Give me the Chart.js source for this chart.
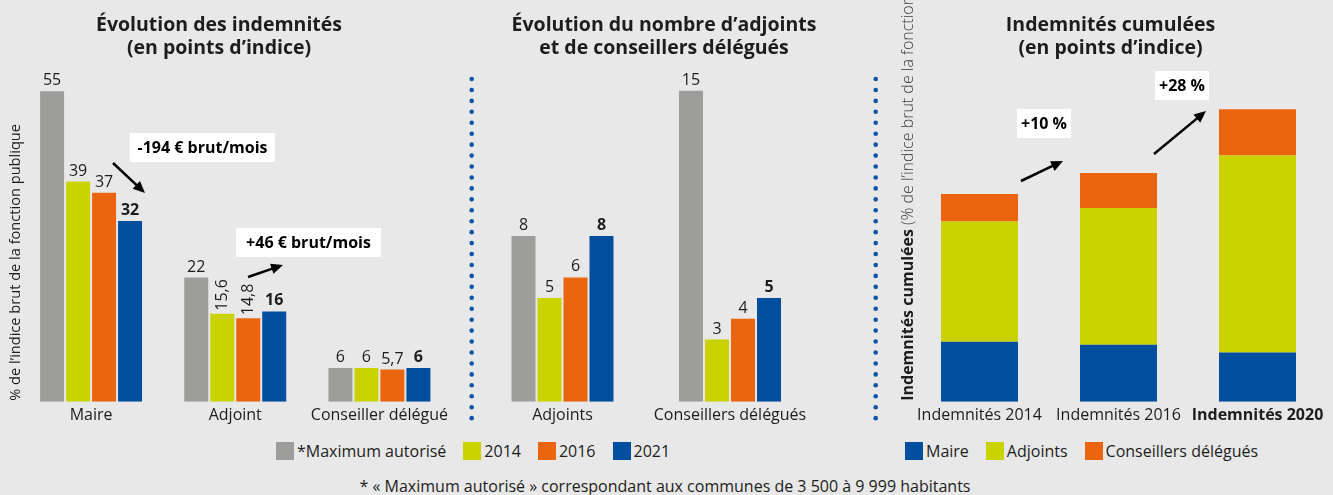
<!DOCTYPE html>
<html lang="fr">
<head>
<meta charset="utf-8">
<script src="https://cdn.jsdelivr.net/npm/chart.js@4.4.1/dist/chart.umd.min.js"></script>
<style>
  body { margin: 0; background: #e8e8e8; width: 1333px; height: 495px; position: relative; overflow: hidden;
         font-family: "Open Sans", sans-serif; color: #1d1d1b; }
  .panel { position: absolute; top: 0; height: 430px; }
  .legend { position: absolute; top: 442px; display: flex; align-items: center; font-size: 16px; font-weight: 500; line-height: 18px; }
  .legend span.box { width: 18px; height: 18px; margin-right: 3px; display: inline-block; }
  .legend span.txt { margin-right: 17px; }
  .note { position: absolute; top: 475px; left: 0; width: 1330px; text-align: center; font-size: 16px; font-weight: 500; }
</style>
</head>
<body>
<div class="panel" style="left:0;width:460px"><canvas id="chart1"></canvas></div>
<div class="panel" style="left:466px;width:414px"><canvas id="chart2"></canvas></div>
<div class="panel" style="left:880px;width:453px"><canvas id="chart3"></canvas></div>

<div class="legend" style="left:276px">
  <span class="box" style="background:#9d9d9c"></span><span class="txt">*Maximum autorisé</span>
  <span class="box" style="background:#cad300"></span><span class="txt">2014</span>
  <span class="box" style="background:#ea650d"></span><span class="txt">2016</span>
  <span class="box" style="background:#004f9e"></span><span class="txt">2021</span>
</div>
<div class="legend" style="left:905px">
  <span class="box" style="background:#004f9e"></span><span class="txt">Maire</span>
  <span class="box" style="background:#cad300"></span><span class="txt">Adjoints</span>
  <span class="box" style="background:#ea650d"></span><span class="txt">Conseillers délégués</span>
</div>
<div class="note">* « Maximum autorisé » correspondant aux communes de 3 500 à 9 999 habitants</div>

<script>
// --- données ---
const categoriesIndemnites = ["Maire", "Adjoint", "Conseiller délégué"];
const maximumAutorise = [55, 22, 6];
const indemnites2014 = [39, 15.6, 6];
const indemnites2016 = [37, 14.8, 5.7];
const indemnites2021 = [32, 16, 6];

const categoriesNombre = ["Adjoints", "Conseillers délégués"];
const nombreMax = [8, 15];
const nombre2014 = [5, 3];
const nombre2016 = [6, 4];
const nombre2021 = [8, 5];

const categoriesCumul = ["Indemnités 2014", "Indemnités 2016", "Indemnités 2020"];
const cumulMaire = [39, 37, 32];
const cumulAdjoints = [78, 88.8, 128];
const cumulConseillers = [18, 22.8, 30];

const GRIS = "#9d9d9c", JAUNE = "#cad300", ORANGE = "#ea650d", BLEU = "#004f9e";
const TEXTE = "#1d1d1b";
const FONT = '"Open Sans", sans-serif';

// étiquettes de valeur au-dessus des barres (verticales si trop larges)
const valueLabels = {
  id: 'valueLabels',
  afterDatasetsDraw(chart) {
    const ctx = chart.ctx;
    chart.data.datasets.forEach((ds, i) => {
      chart.getDatasetMeta(i).data.forEach((bar, j) => {
        const txt = String(ds.data[j]).replace('.', ',');
        ctx.save();
        ctx.fillStyle = TEXTE;
        ctx.font = (ds.boldLabels ? '700 ' : '500 ') + '16px ' + FONT;
        const w = ctx.measureText(txt).width;
        if (w > bar.width + 2) {
          ctx.translate(bar.x, bar.y - 3);
          ctx.rotate(-Math.PI / 2);
          ctx.textAlign = 'left';
          ctx.textBaseline = 'middle';
          ctx.fillText(txt, 0, 0);
        } else {
          ctx.textAlign = 'center';
          ctx.textBaseline = 'alphabetic';
          ctx.fillText(txt, bar.x, bar.y - 6);
        }
        ctx.restore();
      });
    });
  }
};

function drawArrow(ctx, x1, y1, x2, y2) {
  const a = Math.atan2(y2 - y1, x2 - x1), head = 13;
  ctx.strokeStyle = '#000'; ctx.fillStyle = '#000'; ctx.lineWidth = 2.5;
  ctx.beginPath();
  ctx.moveTo(x1, y1);
  ctx.lineTo(x2 - Math.cos(a) * head * 0.8, y2 - Math.sin(a) * head * 0.8);
  ctx.stroke();
  ctx.beginPath();
  ctx.moveTo(x2, y2);
  ctx.lineTo(x2 - head * Math.cos(a - 0.42), y2 - head * Math.sin(a - 0.42));
  ctx.lineTo(x2 - head * Math.cos(a + 0.42), y2 - head * Math.sin(a + 0.42));
  ctx.closePath();
  ctx.fill();
}

// titres, titre d'axe, encadrés et flèches
function decor(cfg) {
  return {
    id: 'decor',
    afterDraw(chart) {
      const ctx = chart.ctx;
      ctx.save();
      ctx.fillStyle = TEXTE;
      ctx.font = '700 19.5px ' + FONT;
      ctx.textAlign = 'center';
      ctx.textBaseline = 'alphabetic';
      cfg.title.forEach((t, i) => ctx.fillText(t, cfg.titleX, 31 + i * 23));

      if (cfg.yTitle) {
        ctx.save();
        ctx.translate(cfg.yTitle.x, chart.chartArea.bottom - 1);
        ctx.rotate(-Math.PI / 2);
        ctx.textAlign = 'left';
        let x = 0;
        cfg.yTitle.parts.forEach(p => {
          ctx.font = p.font;
          ctx.fillStyle = p.color;
          ctx.fillText(p.text, x, 0);
          x += ctx.measureText(p.text).width;
        });
        ctx.restore();
      }

      (cfg.boxes || []).forEach(b => {
        ctx.fillStyle = '#fff';
        ctx.fillRect(b.x, b.y, b.w, b.h);
        ctx.fillStyle = '#000';
        ctx.font = '700 16px ' + FONT;
        ctx.textAlign = 'center';
        ctx.textBaseline = 'middle';
        ctx.fillText(b.text, b.x + b.w / 2, b.y + b.h / 2 + 1);
      });
      (cfg.arrows || []).forEach(a => drawArrow(ctx, a[0], a[1], a[2], a[3]));

      (cfg.dots || []).forEach(x => {
        ctx.fillStyle = '#0d55a6';
        for (let k = 0; k < 32; k++) {
          ctx.beginPath();
          ctx.arc(x, 79 + k * 10.94, 2.3, 0, Math.PI * 2);
          ctx.fill();
        }
      });
      ctx.restore();
    }
  };
}

function baseOptions(pad, yMax) {
  return {
    responsive: false,
    animation: false,
    layout: { padding: pad },
    plugins: { legend: { display: false }, tooltip: { enabled: false } },
    scales: {
      x: {
        grid: { display: false, drawTicks: false },
        border: { display: false },
        ticks: { color: TEXTE, padding: 4, font: { family: FONT, size: 16, weight: 500 } }
      },
      y: { display: false, min: 0, max: yMax }
    }
  };
}

function makeCanvas(id, w) {
  const c = document.getElementById(id);
  c.width = w; c.height = 430;
  return c;
}

// Graphique 1 : évolution des indemnités
const opt1 = baseOptions({ left: 19, right: 8.5, top: 63, bottom: 1 }, 60);
new Chart(makeCanvas('chart1', 460), {
  type: 'bar',
  data: {
    labels: categoriesIndemnites,
    datasets: [
      { label: "*Maximum autorisé", data: maximumAutorise, backgroundColor: GRIS },
      { label: "2014", data: indemnites2014, backgroundColor: JAUNE },
      { label: "2016", data: indemnites2016, backgroundColor: ORANGE },
      { label: "2021", data: indemnites2021, backgroundColor: BLEU, boldLabels: true }
    ].map(d => Object.assign(d, { categoryPercentage: 0.721, barPercentage: 0.923 }))
  },
  options: opt1,
  plugins: [valueLabels, decor({
    title: ["Évolution des indemnités", "(en points d’indice)"],
    titleX: 219,
    yTitle: { x: 20, parts: [{ text: "% de l’indice brut de la fonction publique", font: '500 14.6px ' + FONT, color: TEXTE }] },
    boxes: [
      { x: 130, y: 133, w: 145, h: 29, text: "-194 € brut/mois" },
      { x: 236, y: 228, w: 145, h: 29, text: "+46 € brut/mois" }
    ],
    arrows: [[113, 163, 145, 193], [248, 277, 283, 265]]
  })]
});

// Graphique 2 : nombre d'adjoints et de conseillers délégués
const opt2 = baseOptions({ left: 12.75, right: 66.25, top: 70, bottom: 1 }, 16);
new Chart(makeCanvas('chart2', 414), {
  type: 'bar',
  data: {
    labels: categoriesNombre,
    datasets: [
      { label: "*Maximum autorisé", data: nombreMax, backgroundColor: GRIS },
      { label: "2014", data: nombre2014, backgroundColor: JAUNE },
      { label: "2016", data: nombre2016, backgroundColor: ORANGE },
      { label: "2021", data: nombre2021, backgroundColor: BLEU, boldLabels: true }
    ].map(d => Object.assign(d, { categoryPercentage: 0.621, barPercentage: 0.923 }))
  },
  options: opt2,
  plugins: [valueLabels, decor({
    title: ["Évolution du nombre d’adjoints", "et de conseillers délégués"],
    titleX: 198,
    dots: [5.7, 409.7]
  })]
});

// Graphique 3 : indemnités cumulées
const opt3 = baseOptions({ left: 30, right: 6, top: 63, bottom: 1 }, 220);
opt3.scales.x.stacked = true;
opt3.scales.y.stacked = true;
opt3.scales.x.ticks.font = (c) => ({ family: FONT, size: 16, weight: c.index === 2 ? 'bold' : 500 });
new Chart(makeCanvas('chart3', 453), {
  type: 'bar',
  data: {
    labels: categoriesCumul,
    datasets: [
      { label: "Maire", data: cumulMaire, backgroundColor: BLEU },
      { label: "Adjoints", data: cumulAdjoints, backgroundColor: JAUNE },
      { label: "Conseillers délégués", data: cumulConseillers, backgroundColor: ORANGE }
    ].map(d => Object.assign(d, { categoryPercentage: 1, barPercentage: 0.554 }))
  },
  options: opt3,
  plugins: [decor({
    title: ["Indemnités cumulées", "(en points d’indice)"],
    titleX: 230.5,
    yTitle: { x: 33, parts: [
      { text: "Indemnités cumulées", font: '700 16px ' + FONT, color: TEXTE },
      { text: " (% de l’indice brut de la fonction publique)", font: '300 16px ' + FONT, color: '#3c3c3b' }
    ] },
    boxes: [
      { x: 137, y: 109, w: 54, h: 29, text: "+10 %" },
      { x: 275, y: 71, w: 54, h: 29, text: "+28 %" }
    ],
    arrows: [[141, 181, 183, 161], [274, 154, 326, 111]]
  })]
});
</script>
</body>
</html>
